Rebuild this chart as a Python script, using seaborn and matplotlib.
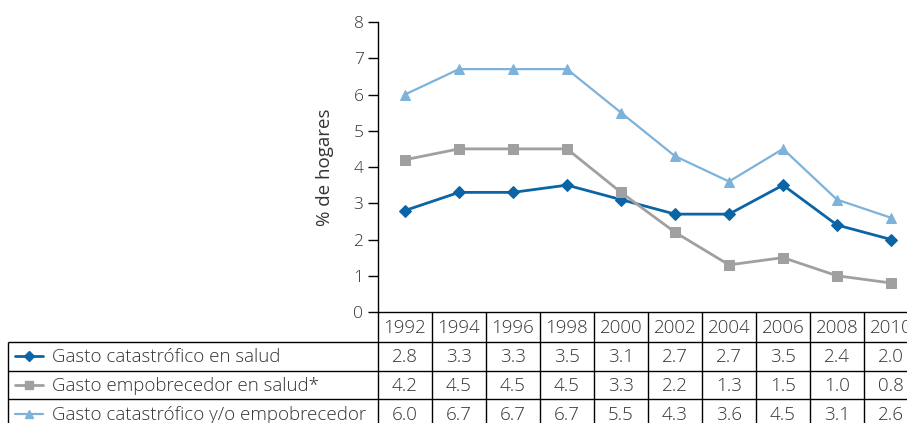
import matplotlib
matplotlib.use("Agg")
import matplotlib.pyplot as plt
import seaborn as sns
import pandas as pd
from matplotlib.lines import Line2D

# --- data -------------------------------------------------------------
years = ["1992", "1994", "1996", "1998", "2000", "2002", "2004", "2006", "2008", "2010"]
catastrofico = [2.8, 3.3, 3.3, 3.5, 3.1, 2.7, 2.7, 3.5, 2.4, 2.0]
empobrecedor = [4.2, 4.5, 4.5, 4.5, 3.3, 2.2, 1.3, 1.5, 1.0, 0.8]
cat_o_empob = [6.0, 6.7, 6.7, 6.7, 5.5, 4.3, 3.6, 4.5, 3.1, 2.6]
series_names = [
    "Gasto catastrófico en salud",
    "Gasto empobrecedor en salud*",
    "Gasto catastrófico y/o empobrecedor",
]
y_ticks = [0, 1, 2, 3, 4, 5, 6, 7, 8]
y_label = "% de hogares"

# --- styling ------------------------------------------------------------
sns.set_theme(style="white")
plt.rcParams["font.family"] = ["Open Sans", "DejaVu Sans"]
plt.rcParams["font.weight"] = "light"
TXT = "#333333"
colors = ["#0a64a6", "#a0a0a0", "#7db2da"]
markers = ["D", "s", "^"]
msizes = [6.0, 6.5, 6.5]
lwidths = [2.0, 2.0, 1.6]

W, H = 907, 423
fig = plt.figure(figsize=(W / 100, H / 100), dpi=100)

# plot area geometry (pixels)
x0, col_w, n = 378, 54, len(years)
y_top, y_bot = 22, 312
ax = fig.add_axes([x0 / W, (H - y_bot) / H, col_w * n / W, (y_bot - y_top) / H])

values = [catastrofico, empobrecedor, cat_o_empob]
for name, vals, c, m, ms, lw in zip(series_names, values, colors, markers, msizes, lwidths):
    df = pd.DataFrame({"x": range(n), "y": vals})
    sns.lineplot(data=df, x="x", y="y", ax=ax, color=c, marker=m, markersize=ms,
                 markeredgecolor=c, linewidth=lw, label=None, legend=False)

ax.set_xlim(-0.5, n - 0.5)
ax.set_ylim(0, 8)
ax.set_yticks(y_ticks)
ax.set_yticklabels([str(t) for t in y_ticks], fontsize=12.5, color=TXT)
ax.set_xticks([])
ax.set_xlabel("")
ax.set_ylabel(y_label, fontsize=13.5, color=TXT, labelpad=14)
for s in ["top", "right"]:
    ax.spines[s].set_visible(False)
for s in ["left", "bottom"]:
    ax.spines[s].set_color("#000000")
    ax.spines[s].set_linewidth(1.0)
ax.tick_params(axis="y", direction="out", length=7, width=1.0, color="#000000", pad=3.5, left=True)
ax.set_facecolor("none")

# --- data table beneath the plot (pixel coordinates) -------------------
tab = fig.add_axes([0, 0, 1, 1], zorder=-1)
tab.set_xlim(0, W)
tab.set_ylim(H, 0)
tab.axis("off")

row_edges = [y_bot, 341.7, 370.7, 399.3, 428.5]
x_left = 8
x_right = x0 + col_w * n
lk = dict(color="#000000", linewidth=1.0, solid_capstyle="butt")

# horizontal rules
for yy in row_edges[1:]:
    tab.plot([x_left, x_right], [yy, yy], **lk)
# vertical rules
tab.plot([x_left, x_left], [row_edges[1], row_edges[-1]], **lk)
for k in range(n + 1):
    xx = x0 + k * col_w
    tab.plot([xx, xx], [row_edges[0], row_edges[-1]], **lk)

fs_tab = 13.5
# header years
yc = (row_edges[0] + row_edges[1]) / 2
for k, yr in enumerate(years):
    tab.text(x0 + (k + 0.5) * col_w, yc + 1, yr, ha="center", va="center",
             fontsize=fs_tab, color=TXT)

# data rows with legend keys
for r, (name, vals, c, m, ms, lw) in enumerate(zip(series_names, values, colors, markers, msizes, lwidths)):
    yc = (row_edges[r + 1] + row_edges[r + 2]) / 2
    tab.add_line(Line2D([15, 43], [yc, yc], color=c, linewidth=lw))
    tab.add_line(Line2D([29], [yc], color=c, marker=m, markersize=ms - 0.8,
                        markeredgecolor=c, linestyle="none"))
    tab.text(52, yc + 1, name, ha="left", va="center", fontsize=fs_tab, color=TXT)
    for k, v in enumerate(vals):
        tab.text(x0 + (k + 0.5) * col_w, yc + 1, f"{v:.1f}", ha="center", va="center",
                 fontsize=fs_tab, color=TXT)

fig.savefig("out.png", dpi=100)
